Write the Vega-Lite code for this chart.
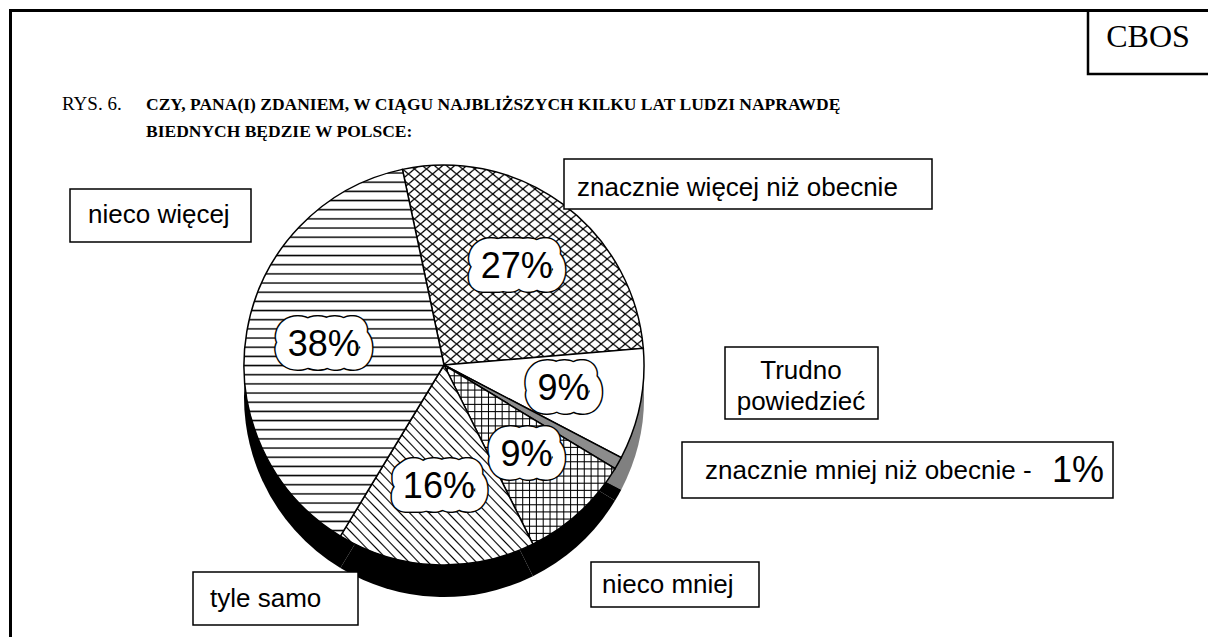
{
"$schema": "https://vega.github.io/schema/vega-lite/v6.json",
"width": 1208, "height": 637, "padding": 0,
"autosize": {"type": "fit", "contains": "padding"},
"background": "#ffffff",
"config": {"view": {"stroke": null}},
"datasets": {"d": [
{"kat": "znacznie więcej niż obecnie", "pct": 27, "lab": "27%", "o": 1},
{"kat": "Trudno powiedzieć", "pct": 9, "lab": "9%", "o": 2},
{"kat": "znacznie mniej niż obecnie", "pct": 1, "lab": "1%", "o": 3},
{"kat": "nieco mniej", "pct": 9, "lab": "9%", "o": 4},
{"kat": "tyle samo", "pct": 16, "lab": "16%", "o": 5},
{"kat": "nieco więcej", "pct": 38, "lab": "38%", "o": 6}
]},
"data": {"name": "d"},
"layer": [
{"data": {"values": [{}]}, "mark": {"type": "rect", "x": 10.5, "y": 10.5, "x2": 1260, "y2": 700, "fill": "transparent", "stroke": "#000", "strokeWidth": 3}, "encoding": {}},
{"data": {"values": [{}]}, "mark": {"type": "rect", "x": 1088, "y": 10.5, "x2": 1260, "y2": 74, "fill": "transparent", "stroke": "#000", "strokeWidth": 2.5}, "encoding": {}},
{"data": {"values": [{}]}, "mark": {"type": "text", "x": 1148, "y": 47, "align": "center", "baseline": "alphabetic", "font": "Liberation Serif", "fontSize": 32, "text": "CBOS", "color": "#000"}, "encoding": {}},
{"data": {"values": [{}]}, "mark": {"type": "text", "x": 62, "y": 110, "align": "left", "baseline": "alphabetic", "font": "Liberation Serif", "fontSize": 19, "text": "RYS. 6.", "color": "#000"}, "encoding": {}},
{"data": {"values": [{}]}, "mark": {"type": "text", "x": 146, "y": 110, "align": "left", "baseline": "alphabetic", "font": "Liberation Serif", "fontWeight": "bold", "fontSize": 17.5, "text": "CZY, PANA(I) ZDANIEM, W CIĄGU NAJBLIŻSZYCH KILKU LAT LUDZI NAPRAWDĘ", "color": "#000"}, "encoding": {}},
{"data": {"values": [{}]}, "mark": {"type": "text", "x": 146, "y": 137, "align": "left", "baseline": "alphabetic", "font": "Liberation Serif", "fontWeight": "bold", "fontSize": 17.5, "text": "BIEDNYCH BĘDZIE W POLSCE:", "color": "#000"}, "encoding": {}},
{"mark": {"type": "arc", "x": 444, "y": 397, "radius": 200, "stroke": null},
 "encoding": {
  "theta": {"field": "pct", "type": "quantitative", "stack": true, "scale": {"domain": [0, 100], "range": [-0.2094, 6.0738]}},
  "order": {"field": "o", "type": "quantitative"},
  "fill": {"condition": {"test": "datum.o==2", "value": "#808080"}, "value": "#000"}
 }},
{"mark": {"type": "arc", "x": 444, "y": 365, "radius": 200, "stroke": "#000", "strokeWidth": 1.5},
 "encoding": {
  "theta": {"field": "pct", "type": "quantitative", "stack": true, "scale": {"domain": [0, 100], "range": [-0.2094, 6.0738]}},
  "order": {"field": "o", "type": "quantitative"},
  "fill": {"condition": [
   {"test": "datum.o==6", "value": {"gradient": "linear", "x1": 0, "y1": 0, "x2": 0, "y2": 1, "stops": [
{"offset":0.006,"color":"#fff"},{"offset":0.01,"color":"#000"},{"offset":0.014,"color":"#fff"},
{"offset":0.031,"color":"#fff"},{"offset":0.035,"color":"#000"},{"offset":0.039,"color":"#fff"},
{"offset":0.056,"color":"#fff"},{"offset":0.06,"color":"#000"},{"offset":0.064,"color":"#fff"},
{"offset":0.081,"color":"#fff"},{"offset":0.085,"color":"#000"},{"offset":0.089,"color":"#fff"},
{"offset":0.106,"color":"#fff"},{"offset":0.11,"color":"#000"},{"offset":0.114,"color":"#fff"},
{"offset":0.131,"color":"#fff"},{"offset":0.135,"color":"#000"},{"offset":0.139,"color":"#fff"},
{"offset":0.156,"color":"#fff"},{"offset":0.16,"color":"#000"},{"offset":0.164,"color":"#fff"},
{"offset":0.181,"color":"#fff"},{"offset":0.185,"color":"#000"},{"offset":0.189,"color":"#fff"},
{"offset":0.206,"color":"#fff"},{"offset":0.21,"color":"#000"},{"offset":0.214,"color":"#fff"},
{"offset":0.231,"color":"#fff"},{"offset":0.235,"color":"#000"},{"offset":0.239,"color":"#fff"},
{"offset":0.256,"color":"#fff"},{"offset":0.26,"color":"#000"},{"offset":0.264,"color":"#fff"},
{"offset":0.281,"color":"#fff"},{"offset":0.285,"color":"#000"},{"offset":0.289,"color":"#fff"},
{"offset":0.306,"color":"#fff"},{"offset":0.31,"color":"#000"},{"offset":0.314,"color":"#fff"},
{"offset":0.331,"color":"#fff"},{"offset":0.335,"color":"#000"},{"offset":0.339,"color":"#fff"},
{"offset":0.356,"color":"#fff"},{"offset":0.36,"color":"#000"},{"offset":0.364,"color":"#fff"},
{"offset":0.381,"color":"#fff"},{"offset":0.385,"color":"#000"},{"offset":0.389,"color":"#fff"},
{"offset":0.406,"color":"#fff"},{"offset":0.41,"color":"#000"},{"offset":0.414,"color":"#fff"},
{"offset":0.431,"color":"#fff"},{"offset":0.435,"color":"#000"},{"offset":0.439,"color":"#fff"},
{"offset":0.456,"color":"#fff"},{"offset":0.46,"color":"#000"},{"offset":0.464,"color":"#fff"},
{"offset":0.481,"color":"#fff"},{"offset":0.485,"color":"#000"},{"offset":0.489,"color":"#fff"},
{"offset":0.506,"color":"#fff"},{"offset":0.51,"color":"#000"},{"offset":0.514,"color":"#fff"},
{"offset":0.531,"color":"#fff"},{"offset":0.535,"color":"#000"},{"offset":0.539,"color":"#fff"},
{"offset":0.556,"color":"#fff"},{"offset":0.56,"color":"#000"},{"offset":0.564,"color":"#fff"},
{"offset":0.581,"color":"#fff"},{"offset":0.585,"color":"#000"},{"offset":0.589,"color":"#fff"},
{"offset":0.606,"color":"#fff"},{"offset":0.61,"color":"#000"},{"offset":0.614,"color":"#fff"},
{"offset":0.631,"color":"#fff"},{"offset":0.635,"color":"#000"},{"offset":0.639,"color":"#fff"},
{"offset":0.656,"color":"#fff"},{"offset":0.66,"color":"#000"},{"offset":0.664,"color":"#fff"},
{"offset":0.681,"color":"#fff"},{"offset":0.685,"color":"#000"},{"offset":0.689,"color":"#fff"},
{"offset":0.706,"color":"#fff"},{"offset":0.71,"color":"#000"},{"offset":0.714,"color":"#fff"},
{"offset":0.731,"color":"#fff"},{"offset":0.735,"color":"#000"},{"offset":0.739,"color":"#fff"},
{"offset":0.756,"color":"#fff"},{"offset":0.76,"color":"#000"},{"offset":0.764,"color":"#fff"},
{"offset":0.781,"color":"#fff"},{"offset":0.785,"color":"#000"},{"offset":0.789,"color":"#fff"},
{"offset":0.806,"color":"#fff"},{"offset":0.81,"color":"#000"},{"offset":0.814,"color":"#fff"},
{"offset":0.831,"color":"#fff"},{"offset":0.835,"color":"#000"},{"offset":0.839,"color":"#fff"},
{"offset":0.856,"color":"#fff"},{"offset":0.86,"color":"#000"},{"offset":0.864,"color":"#fff"},
{"offset":0.881,"color":"#fff"},{"offset":0.885,"color":"#000"},{"offset":0.889,"color":"#fff"},
{"offset":0.906,"color":"#fff"},{"offset":0.91,"color":"#000"},{"offset":0.914,"color":"#fff"},
{"offset":0.931,"color":"#fff"},{"offset":0.935,"color":"#000"},{"offset":0.939,"color":"#fff"},
{"offset":0.956,"color":"#fff"},{"offset":0.96,"color":"#000"},{"offset":0.964,"color":"#fff"},
{"offset":0.981,"color":"#fff"},{"offset":0.985,"color":"#000"},{"offset":0.989,"color":"#fff"}
   ]}},
   {"test": "datum.o==1", "value": {"gradient": "linear", "x1": 0, "y1": 0, "x2": 1, "y2": 1, "stops": [
{"offset":0.006,"color":"#fff"},{"offset":0.01,"color":"#000"},{"offset":0.014,"color":"#fff"},
{"offset":0.031,"color":"#fff"},{"offset":0.035,"color":"#000"},{"offset":0.039,"color":"#fff"},
{"offset":0.056,"color":"#fff"},{"offset":0.06,"color":"#000"},{"offset":0.064,"color":"#fff"},
{"offset":0.081,"color":"#fff"},{"offset":0.085,"color":"#000"},{"offset":0.089,"color":"#fff"},
{"offset":0.106,"color":"#fff"},{"offset":0.11,"color":"#000"},{"offset":0.114,"color":"#fff"},
{"offset":0.131,"color":"#fff"},{"offset":0.135,"color":"#000"},{"offset":0.139,"color":"#fff"},
{"offset":0.156,"color":"#fff"},{"offset":0.16,"color":"#000"},{"offset":0.164,"color":"#fff"},
{"offset":0.181,"color":"#fff"},{"offset":0.185,"color":"#000"},{"offset":0.189,"color":"#fff"},
{"offset":0.206,"color":"#fff"},{"offset":0.21,"color":"#000"},{"offset":0.214,"color":"#fff"},
{"offset":0.231,"color":"#fff"},{"offset":0.235,"color":"#000"},{"offset":0.239,"color":"#fff"},
{"offset":0.256,"color":"#fff"},{"offset":0.26,"color":"#000"},{"offset":0.264,"color":"#fff"},
{"offset":0.281,"color":"#fff"},{"offset":0.285,"color":"#000"},{"offset":0.289,"color":"#fff"},
{"offset":0.306,"color":"#fff"},{"offset":0.31,"color":"#000"},{"offset":0.314,"color":"#fff"},
{"offset":0.331,"color":"#fff"},{"offset":0.335,"color":"#000"},{"offset":0.339,"color":"#fff"},
{"offset":0.356,"color":"#fff"},{"offset":0.36,"color":"#000"},{"offset":0.364,"color":"#fff"},
{"offset":0.381,"color":"#fff"},{"offset":0.385,"color":"#000"},{"offset":0.389,"color":"#fff"},
{"offset":0.406,"color":"#fff"},{"offset":0.41,"color":"#000"},{"offset":0.414,"color":"#fff"},
{"offset":0.431,"color":"#fff"},{"offset":0.435,"color":"#000"},{"offset":0.439,"color":"#fff"},
{"offset":0.456,"color":"#fff"},{"offset":0.46,"color":"#000"},{"offset":0.464,"color":"#fff"},
{"offset":0.481,"color":"#fff"},{"offset":0.485,"color":"#000"},{"offset":0.489,"color":"#fff"},
{"offset":0.506,"color":"#fff"},{"offset":0.51,"color":"#000"},{"offset":0.514,"color":"#fff"},
{"offset":0.531,"color":"#fff"},{"offset":0.535,"color":"#000"},{"offset":0.539,"color":"#fff"},
{"offset":0.556,"color":"#fff"},{"offset":0.56,"color":"#000"},{"offset":0.564,"color":"#fff"},
{"offset":0.581,"color":"#fff"},{"offset":0.585,"color":"#000"},{"offset":0.589,"color":"#fff"},
{"offset":0.606,"color":"#fff"},{"offset":0.61,"color":"#000"},{"offset":0.614,"color":"#fff"},
{"offset":0.631,"color":"#fff"},{"offset":0.635,"color":"#000"},{"offset":0.639,"color":"#fff"},
{"offset":0.656,"color":"#fff"},{"offset":0.66,"color":"#000"},{"offset":0.664,"color":"#fff"},
{"offset":0.681,"color":"#fff"},{"offset":0.685,"color":"#000"},{"offset":0.689,"color":"#fff"},
{"offset":0.706,"color":"#fff"},{"offset":0.71,"color":"#000"},{"offset":0.714,"color":"#fff"},
{"offset":0.731,"color":"#fff"},{"offset":0.735,"color":"#000"},{"offset":0.739,"color":"#fff"},
{"offset":0.756,"color":"#fff"},{"offset":0.76,"color":"#000"},{"offset":0.764,"color":"#fff"},
{"offset":0.781,"color":"#fff"},{"offset":0.785,"color":"#000"},{"offset":0.789,"color":"#fff"},
{"offset":0.806,"color":"#fff"},{"offset":0.81,"color":"#000"},{"offset":0.814,"color":"#fff"},
{"offset":0.831,"color":"#fff"},{"offset":0.835,"color":"#000"},{"offset":0.839,"color":"#fff"},
{"offset":0.856,"color":"#fff"},{"offset":0.86,"color":"#000"},{"offset":0.864,"color":"#fff"},
{"offset":0.881,"color":"#fff"},{"offset":0.885,"color":"#000"},{"offset":0.889,"color":"#fff"},
{"offset":0.906,"color":"#fff"},{"offset":0.91,"color":"#000"},{"offset":0.914,"color":"#fff"},
{"offset":0.931,"color":"#fff"},{"offset":0.935,"color":"#000"},{"offset":0.939,"color":"#fff"},
{"offset":0.956,"color":"#fff"},{"offset":0.96,"color":"#000"},{"offset":0.964,"color":"#fff"},
{"offset":0.981,"color":"#fff"},{"offset":0.985,"color":"#000"},{"offset":0.989,"color":"#fff"}
   ]}},
   {"test": "datum.o==5", "value": {"gradient": "linear", "x1": 0, "y1": 1, "x2": 1, "y2": 0, "stops": [
{"offset":0.006,"color":"#fff"},{"offset":0.01,"color":"#000"},{"offset":0.014,"color":"#fff"},
{"offset":0.031,"color":"#fff"},{"offset":0.035,"color":"#000"},{"offset":0.039,"color":"#fff"},
{"offset":0.056,"color":"#fff"},{"offset":0.06,"color":"#000"},{"offset":0.064,"color":"#fff"},
{"offset":0.081,"color":"#fff"},{"offset":0.085,"color":"#000"},{"offset":0.089,"color":"#fff"},
{"offset":0.106,"color":"#fff"},{"offset":0.11,"color":"#000"},{"offset":0.114,"color":"#fff"},
{"offset":0.131,"color":"#fff"},{"offset":0.135,"color":"#000"},{"offset":0.139,"color":"#fff"},
{"offset":0.156,"color":"#fff"},{"offset":0.16,"color":"#000"},{"offset":0.164,"color":"#fff"},
{"offset":0.181,"color":"#fff"},{"offset":0.185,"color":"#000"},{"offset":0.189,"color":"#fff"},
{"offset":0.206,"color":"#fff"},{"offset":0.21,"color":"#000"},{"offset":0.214,"color":"#fff"},
{"offset":0.231,"color":"#fff"},{"offset":0.235,"color":"#000"},{"offset":0.239,"color":"#fff"},
{"offset":0.256,"color":"#fff"},{"offset":0.26,"color":"#000"},{"offset":0.264,"color":"#fff"},
{"offset":0.281,"color":"#fff"},{"offset":0.285,"color":"#000"},{"offset":0.289,"color":"#fff"},
{"offset":0.306,"color":"#fff"},{"offset":0.31,"color":"#000"},{"offset":0.314,"color":"#fff"},
{"offset":0.331,"color":"#fff"},{"offset":0.335,"color":"#000"},{"offset":0.339,"color":"#fff"},
{"offset":0.356,"color":"#fff"},{"offset":0.36,"color":"#000"},{"offset":0.364,"color":"#fff"},
{"offset":0.381,"color":"#fff"},{"offset":0.385,"color":"#000"},{"offset":0.389,"color":"#fff"},
{"offset":0.406,"color":"#fff"},{"offset":0.41,"color":"#000"},{"offset":0.414,"color":"#fff"},
{"offset":0.431,"color":"#fff"},{"offset":0.435,"color":"#000"},{"offset":0.439,"color":"#fff"},
{"offset":0.456,"color":"#fff"},{"offset":0.46,"color":"#000"},{"offset":0.464,"color":"#fff"},
{"offset":0.481,"color":"#fff"},{"offset":0.485,"color":"#000"},{"offset":0.489,"color":"#fff"},
{"offset":0.506,"color":"#fff"},{"offset":0.51,"color":"#000"},{"offset":0.514,"color":"#fff"},
{"offset":0.531,"color":"#fff"},{"offset":0.535,"color":"#000"},{"offset":0.539,"color":"#fff"},
{"offset":0.556,"color":"#fff"},{"offset":0.56,"color":"#000"},{"offset":0.564,"color":"#fff"},
{"offset":0.581,"color":"#fff"},{"offset":0.585,"color":"#000"},{"offset":0.589,"color":"#fff"},
{"offset":0.606,"color":"#fff"},{"offset":0.61,"color":"#000"},{"offset":0.614,"color":"#fff"},
{"offset":0.631,"color":"#fff"},{"offset":0.635,"color":"#000"},{"offset":0.639,"color":"#fff"},
{"offset":0.656,"color":"#fff"},{"offset":0.66,"color":"#000"},{"offset":0.664,"color":"#fff"},
{"offset":0.681,"color":"#fff"},{"offset":0.685,"color":"#000"},{"offset":0.689,"color":"#fff"},
{"offset":0.706,"color":"#fff"},{"offset":0.71,"color":"#000"},{"offset":0.714,"color":"#fff"},
{"offset":0.731,"color":"#fff"},{"offset":0.735,"color":"#000"},{"offset":0.739,"color":"#fff"},
{"offset":0.756,"color":"#fff"},{"offset":0.76,"color":"#000"},{"offset":0.764,"color":"#fff"},
{"offset":0.781,"color":"#fff"},{"offset":0.785,"color":"#000"},{"offset":0.789,"color":"#fff"},
{"offset":0.806,"color":"#fff"},{"offset":0.81,"color":"#000"},{"offset":0.814,"color":"#fff"},
{"offset":0.831,"color":"#fff"},{"offset":0.835,"color":"#000"},{"offset":0.839,"color":"#fff"},
{"offset":0.856,"color":"#fff"},{"offset":0.86,"color":"#000"},{"offset":0.864,"color":"#fff"},
{"offset":0.881,"color":"#fff"},{"offset":0.885,"color":"#000"},{"offset":0.889,"color":"#fff"},
{"offset":0.906,"color":"#fff"},{"offset":0.91,"color":"#000"},{"offset":0.914,"color":"#fff"},
{"offset":0.931,"color":"#fff"},{"offset":0.935,"color":"#000"},{"offset":0.939,"color":"#fff"},
{"offset":0.956,"color":"#fff"},{"offset":0.96,"color":"#000"},{"offset":0.964,"color":"#fff"},
{"offset":0.981,"color":"#fff"},{"offset":0.985,"color":"#000"},{"offset":0.989,"color":"#fff"}
   ]}},
   {"test": "datum.o==4", "value": {"gradient": "linear", "x1": 0, "y1": 0, "x2": 1, "y2": 0, "stops": [
{"offset":0.014,"color":"#fff"},{"offset":0.02,"color":"#000"},{"offset":0.026,"color":"#fff"},
{"offset":0.054,"color":"#fff"},{"offset":0.06,"color":"#000"},{"offset":0.066,"color":"#fff"},
{"offset":0.094,"color":"#fff"},{"offset":0.1,"color":"#000"},{"offset":0.106,"color":"#fff"},
{"offset":0.134,"color":"#fff"},{"offset":0.14,"color":"#000"},{"offset":0.146,"color":"#fff"},
{"offset":0.174,"color":"#fff"},{"offset":0.18,"color":"#000"},{"offset":0.186,"color":"#fff"},
{"offset":0.214,"color":"#fff"},{"offset":0.22,"color":"#000"},{"offset":0.226,"color":"#fff"},
{"offset":0.254,"color":"#fff"},{"offset":0.26,"color":"#000"},{"offset":0.266,"color":"#fff"},
{"offset":0.294,"color":"#fff"},{"offset":0.3,"color":"#000"},{"offset":0.306,"color":"#fff"},
{"offset":0.334,"color":"#fff"},{"offset":0.34,"color":"#000"},{"offset":0.346,"color":"#fff"},
{"offset":0.374,"color":"#fff"},{"offset":0.38,"color":"#000"},{"offset":0.386,"color":"#fff"},
{"offset":0.414,"color":"#fff"},{"offset":0.42,"color":"#000"},{"offset":0.426,"color":"#fff"},
{"offset":0.454,"color":"#fff"},{"offset":0.46,"color":"#000"},{"offset":0.466,"color":"#fff"},
{"offset":0.494,"color":"#fff"},{"offset":0.5,"color":"#000"},{"offset":0.506,"color":"#fff"},
{"offset":0.534,"color":"#fff"},{"offset":0.54,"color":"#000"},{"offset":0.546,"color":"#fff"},
{"offset":0.574,"color":"#fff"},{"offset":0.58,"color":"#000"},{"offset":0.586,"color":"#fff"},
{"offset":0.614,"color":"#fff"},{"offset":0.62,"color":"#000"},{"offset":0.626,"color":"#fff"},
{"offset":0.654,"color":"#fff"},{"offset":0.66,"color":"#000"},{"offset":0.666,"color":"#fff"},
{"offset":0.694,"color":"#fff"},{"offset":0.7,"color":"#000"},{"offset":0.706,"color":"#fff"},
{"offset":0.734,"color":"#fff"},{"offset":0.74,"color":"#000"},{"offset":0.746,"color":"#fff"},
{"offset":0.774,"color":"#fff"},{"offset":0.78,"color":"#000"},{"offset":0.786,"color":"#fff"},
{"offset":0.814,"color":"#fff"},{"offset":0.82,"color":"#000"},{"offset":0.826,"color":"#fff"},
{"offset":0.854,"color":"#fff"},{"offset":0.86,"color":"#000"},{"offset":0.866,"color":"#fff"},
{"offset":0.894,"color":"#fff"},{"offset":0.9,"color":"#000"},{"offset":0.906,"color":"#fff"},
{"offset":0.934,"color":"#fff"},{"offset":0.94,"color":"#000"},{"offset":0.946,"color":"#fff"},
{"offset":0.974,"color":"#fff"},{"offset":0.98,"color":"#000"},{"offset":0.986,"color":"#fff"}
   ]}},
   {"test": "datum.o==3", "value": "#8c8c8c"}
  ], "value": "#ffffff"}
 }},
{"mark": {"type": "arc", "x": 444, "y": 365, "radius": 200, "stroke": null},
 "encoding": {
  "theta": {"field": "pct", "type": "quantitative", "stack": true, "scale": {"domain": [0, 100], "range": [-0.2094, 6.0738]}},
  "order": {"field": "o", "type": "quantitative"},
  "fill": {"condition": [
   {"test": "datum.o==1", "value": {"gradient": "linear", "x1": 1, "y1": 0, "x2": 0, "y2": 1, "stops": [
{"offset":0.006,"color":"#0000"},{"offset":0.01,"color":"#000"},{"offset":0.014,"color":"#0000"},
{"offset":0.031,"color":"#0000"},{"offset":0.035,"color":"#000"},{"offset":0.039,"color":"#0000"},
{"offset":0.056,"color":"#0000"},{"offset":0.06,"color":"#000"},{"offset":0.064,"color":"#0000"},
{"offset":0.081,"color":"#0000"},{"offset":0.085,"color":"#000"},{"offset":0.089,"color":"#0000"},
{"offset":0.106,"color":"#0000"},{"offset":0.11,"color":"#000"},{"offset":0.114,"color":"#0000"},
{"offset":0.131,"color":"#0000"},{"offset":0.135,"color":"#000"},{"offset":0.139,"color":"#0000"},
{"offset":0.156,"color":"#0000"},{"offset":0.16,"color":"#000"},{"offset":0.164,"color":"#0000"},
{"offset":0.181,"color":"#0000"},{"offset":0.185,"color":"#000"},{"offset":0.189,"color":"#0000"},
{"offset":0.206,"color":"#0000"},{"offset":0.21,"color":"#000"},{"offset":0.214,"color":"#0000"},
{"offset":0.231,"color":"#0000"},{"offset":0.235,"color":"#000"},{"offset":0.239,"color":"#0000"},
{"offset":0.256,"color":"#0000"},{"offset":0.26,"color":"#000"},{"offset":0.264,"color":"#0000"},
{"offset":0.281,"color":"#0000"},{"offset":0.285,"color":"#000"},{"offset":0.289,"color":"#0000"},
{"offset":0.306,"color":"#0000"},{"offset":0.31,"color":"#000"},{"offset":0.314,"color":"#0000"},
{"offset":0.331,"color":"#0000"},{"offset":0.335,"color":"#000"},{"offset":0.339,"color":"#0000"},
{"offset":0.356,"color":"#0000"},{"offset":0.36,"color":"#000"},{"offset":0.364,"color":"#0000"},
{"offset":0.381,"color":"#0000"},{"offset":0.385,"color":"#000"},{"offset":0.389,"color":"#0000"},
{"offset":0.406,"color":"#0000"},{"offset":0.41,"color":"#000"},{"offset":0.414,"color":"#0000"},
{"offset":0.431,"color":"#0000"},{"offset":0.435,"color":"#000"},{"offset":0.439,"color":"#0000"},
{"offset":0.456,"color":"#0000"},{"offset":0.46,"color":"#000"},{"offset":0.464,"color":"#0000"},
{"offset":0.481,"color":"#0000"},{"offset":0.485,"color":"#000"},{"offset":0.489,"color":"#0000"},
{"offset":0.506,"color":"#0000"},{"offset":0.51,"color":"#000"},{"offset":0.514,"color":"#0000"},
{"offset":0.531,"color":"#0000"},{"offset":0.535,"color":"#000"},{"offset":0.539,"color":"#0000"},
{"offset":0.556,"color":"#0000"},{"offset":0.56,"color":"#000"},{"offset":0.564,"color":"#0000"},
{"offset":0.581,"color":"#0000"},{"offset":0.585,"color":"#000"},{"offset":0.589,"color":"#0000"},
{"offset":0.606,"color":"#0000"},{"offset":0.61,"color":"#000"},{"offset":0.614,"color":"#0000"},
{"offset":0.631,"color":"#0000"},{"offset":0.635,"color":"#000"},{"offset":0.639,"color":"#0000"},
{"offset":0.656,"color":"#0000"},{"offset":0.66,"color":"#000"},{"offset":0.664,"color":"#0000"},
{"offset":0.681,"color":"#0000"},{"offset":0.685,"color":"#000"},{"offset":0.689,"color":"#0000"},
{"offset":0.706,"color":"#0000"},{"offset":0.71,"color":"#000"},{"offset":0.714,"color":"#0000"},
{"offset":0.731,"color":"#0000"},{"offset":0.735,"color":"#000"},{"offset":0.739,"color":"#0000"},
{"offset":0.756,"color":"#0000"},{"offset":0.76,"color":"#000"},{"offset":0.764,"color":"#0000"},
{"offset":0.781,"color":"#0000"},{"offset":0.785,"color":"#000"},{"offset":0.789,"color":"#0000"},
{"offset":0.806,"color":"#0000"},{"offset":0.81,"color":"#000"},{"offset":0.814,"color":"#0000"},
{"offset":0.831,"color":"#0000"},{"offset":0.835,"color":"#000"},{"offset":0.839,"color":"#0000"},
{"offset":0.856,"color":"#0000"},{"offset":0.86,"color":"#000"},{"offset":0.864,"color":"#0000"},
{"offset":0.881,"color":"#0000"},{"offset":0.885,"color":"#000"},{"offset":0.889,"color":"#0000"},
{"offset":0.906,"color":"#0000"},{"offset":0.91,"color":"#000"},{"offset":0.914,"color":"#0000"},
{"offset":0.931,"color":"#0000"},{"offset":0.935,"color":"#000"},{"offset":0.939,"color":"#0000"},
{"offset":0.956,"color":"#0000"},{"offset":0.96,"color":"#000"},{"offset":0.964,"color":"#0000"},
{"offset":0.981,"color":"#0000"},{"offset":0.985,"color":"#000"},{"offset":0.989,"color":"#0000"}
   ]}},
   {"test": "datum.o==4", "value": {"gradient": "linear", "x1": 0, "y1": 0, "x2": 0, "y2": 1, "stops": [
{"offset":0.014,"color":"#0000"},{"offset":0.02,"color":"#000"},{"offset":0.026,"color":"#0000"},
{"offset":0.054,"color":"#0000"},{"offset":0.06,"color":"#000"},{"offset":0.066,"color":"#0000"},
{"offset":0.094,"color":"#0000"},{"offset":0.1,"color":"#000"},{"offset":0.106,"color":"#0000"},
{"offset":0.134,"color":"#0000"},{"offset":0.14,"color":"#000"},{"offset":0.146,"color":"#0000"},
{"offset":0.174,"color":"#0000"},{"offset":0.18,"color":"#000"},{"offset":0.186,"color":"#0000"},
{"offset":0.214,"color":"#0000"},{"offset":0.22,"color":"#000"},{"offset":0.226,"color":"#0000"},
{"offset":0.254,"color":"#0000"},{"offset":0.26,"color":"#000"},{"offset":0.266,"color":"#0000"},
{"offset":0.294,"color":"#0000"},{"offset":0.3,"color":"#000"},{"offset":0.306,"color":"#0000"},
{"offset":0.334,"color":"#0000"},{"offset":0.34,"color":"#000"},{"offset":0.346,"color":"#0000"},
{"offset":0.374,"color":"#0000"},{"offset":0.38,"color":"#000"},{"offset":0.386,"color":"#0000"},
{"offset":0.414,"color":"#0000"},{"offset":0.42,"color":"#000"},{"offset":0.426,"color":"#0000"},
{"offset":0.454,"color":"#0000"},{"offset":0.46,"color":"#000"},{"offset":0.466,"color":"#0000"},
{"offset":0.494,"color":"#0000"},{"offset":0.5,"color":"#000"},{"offset":0.506,"color":"#0000"},
{"offset":0.534,"color":"#0000"},{"offset":0.54,"color":"#000"},{"offset":0.546,"color":"#0000"},
{"offset":0.574,"color":"#0000"},{"offset":0.58,"color":"#000"},{"offset":0.586,"color":"#0000"},
{"offset":0.614,"color":"#0000"},{"offset":0.62,"color":"#000"},{"offset":0.626,"color":"#0000"},
{"offset":0.654,"color":"#0000"},{"offset":0.66,"color":"#000"},{"offset":0.666,"color":"#0000"},
{"offset":0.694,"color":"#0000"},{"offset":0.7,"color":"#000"},{"offset":0.706,"color":"#0000"},
{"offset":0.734,"color":"#0000"},{"offset":0.74,"color":"#000"},{"offset":0.746,"color":"#0000"},
{"offset":0.774,"color":"#0000"},{"offset":0.78,"color":"#000"},{"offset":0.786,"color":"#0000"},
{"offset":0.814,"color":"#0000"},{"offset":0.82,"color":"#000"},{"offset":0.826,"color":"#0000"},
{"offset":0.854,"color":"#0000"},{"offset":0.86,"color":"#000"},{"offset":0.866,"color":"#0000"},
{"offset":0.894,"color":"#0000"},{"offset":0.9,"color":"#000"},{"offset":0.906,"color":"#0000"},
{"offset":0.934,"color":"#0000"},{"offset":0.94,"color":"#000"},{"offset":0.946,"color":"#0000"},
{"offset":0.974,"color":"#0000"},{"offset":0.98,"color":"#000"},{"offset":0.986,"color":"#0000"}
   ]}}
  ], "value": "transparent"}
 }},
{"mark": {"type": "text", "x": 444, "y": 365, "radius": 122, "font": "Liberation Sans", "fontSize": 36, "stroke": "#000", "strokeWidth": 30, "strokeJoin": "round", "fill": "#000"},
 "encoding": {
  "theta": {"field": "pct", "type": "quantitative", "stack": true, "scale": {"domain": [0, 100], "range": [-0.2094, 6.0738]}},
  "order": {"field": "o", "type": "quantitative"},
  "text": {"condition": {"test": "datum.o==3", "value": ""}, "field": "lab"}
 }},
{"mark": {"type": "text", "x": 444, "y": 365, "radius": 122, "font": "Liberation Sans", "fontSize": 36, "stroke": "#fff", "strokeWidth": 27, "strokeJoin": "round", "fill": "#fff"},
 "encoding": {
  "theta": {"field": "pct", "type": "quantitative", "stack": true, "scale": {"domain": [0, 100], "range": [-0.2094, 6.0738]}},
  "order": {"field": "o", "type": "quantitative"},
  "text": {"condition": {"test": "datum.o==3", "value": ""}, "field": "lab"}
 }},
{"mark": {"type": "text", "x": 444, "y": 365, "radius": 122, "font": "Liberation Sans", "fontSize": 36, "fill": "#000"},
 "encoding": {
  "theta": {"field": "pct", "type": "quantitative", "stack": true, "scale": {"domain": [0, 100], "range": [-0.2094, 6.0738]}},
  "order": {"field": "o", "type": "quantitative"},
  "text": {"condition": {"test": "datum.o==3", "value": ""}, "field": "lab"}
 }},
{"transform": [{"filter": "datum.o==6"}], "layer": [
  {"mark": {"type": "rect", "x": 70, "y": 189, "x2": 251, "y2": 242, "fill": "#fff", "stroke": "#000", "strokeWidth": 1.5}, "encoding": {}},
  {"mark": {"type": "text", "x": 88, "y": 223, "align": "left", "baseline": "alphabetic", "font": "Liberation Sans", "fontSize": 26, "fill": "#000"}, "encoding": {"text": {"field": "kat"}}}
]},
{"transform": [{"filter": "datum.o==1"}], "layer": [
  {"mark": {"type": "rect", "x": 564, "y": 159, "x2": 932, "y2": 209, "fill": "#fff", "stroke": "#000", "strokeWidth": 1.5}, "encoding": {}},
  {"mark": {"type": "text", "x": 577, "y": 196, "align": "left", "baseline": "alphabetic", "font": "Liberation Sans", "fontSize": 26, "fill": "#000"}, "encoding": {"text": {"field": "kat"}}}
]},
{"transform": [{"filter": "datum.o==2"}], "layer": [
  {"mark": {"type": "rect", "x": 725, "y": 347, "x2": 878, "y2": 419, "fill": "#fff", "stroke": "#000", "strokeWidth": 1.5}, "encoding": {}},
  {"mark": {"type": "text", "x": 801, "y": 379, "align": "center", "baseline": "alphabetic", "font": "Liberation Sans", "fontSize": 26, "lineBreak": " ", "lineHeight": 31, "fill": "#000"}, "encoding": {"text": {"field": "kat"}}}
]},
{"transform": [{"filter": "datum.o==3"}], "layer": [
  {"mark": {"type": "rect", "x": 682, "y": 442, "x2": 1113, "y2": 498, "fill": "#fff", "stroke": "#000", "strokeWidth": 1.5}, "encoding": {}},
  {"mark": {"type": "text", "x": 705, "y": 479, "align": "left", "baseline": "alphabetic", "font": "Liberation Sans", "fontSize": 26, "fill": "#000"}, "encoding": {"text": {"field": "kat"}}},
  {"mark": {"type": "text", "x": 1023, "y": 479, "align": "left", "baseline": "alphabetic", "font": "Liberation Sans", "fontSize": 26, "fill": "#000", "text": "-"}, "encoding": {}},
  {"mark": {"type": "text", "x": 1104, "y": 482, "align": "right", "baseline": "alphabetic", "font": "Liberation Sans", "fontSize": 36, "fill": "#000"}, "encoding": {"text": {"field": "lab"}}}
]},
{"transform": [{"filter": "datum.o==5"}], "layer": [
  {"mark": {"type": "rect", "x": 193, "y": 572, "x2": 358, "y2": 625, "fill": "#fff", "stroke": "#000", "strokeWidth": 1.5}, "encoding": {}},
  {"mark": {"type": "text", "x": 210, "y": 607, "align": "left", "baseline": "alphabetic", "font": "Liberation Sans", "fontSize": 26, "fill": "#000"}, "encoding": {"text": {"field": "kat"}}}
]},
{"transform": [{"filter": "datum.o==4"}], "layer": [
  {"mark": {"type": "rect", "x": 591, "y": 562, "x2": 759, "y2": 607, "fill": "#fff", "stroke": "#000", "strokeWidth": 1.5}, "encoding": {}},
  {"mark": {"type": "text", "x": 602, "y": 593, "align": "left", "baseline": "alphabetic", "font": "Liberation Sans", "fontSize": 26, "fill": "#000"}, "encoding": {"text": {"field": "kat"}}}
]}
]
}
